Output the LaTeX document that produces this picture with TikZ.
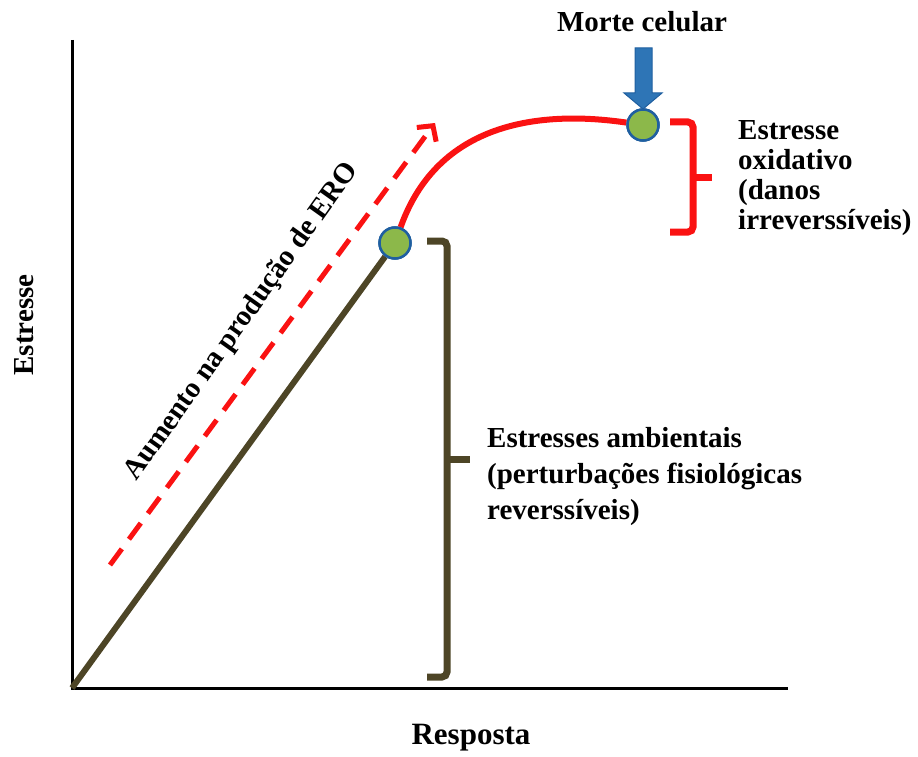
\documentclass[tikz,border=0pt]{standalone}
\usepackage{fontspec}
\setmainfont{Liberation Serif}
\usetikzlibrary{positioning, arrows.meta}
\definecolor{olivebr}{RGB}{77,69,38}
\definecolor{redln}{RGB}{250,18,18}
\definecolor{blarrow}{RGB}{46,117,182}
\definecolor{blrim}{RGB}{31,95,160}
\definecolor{greenpt}{RGB}{140,184,74}

\begin{document}
\begin{tikzpicture}[x=1pt, y=-1pt,
       lbl/.style={font=\fontsize{29}{36}\selectfont\bfseries, inner sep=0pt},
       pt/.style={circle, inner sep=0pt, minimum size=31pt, fill=greenpt,
         draw=blrim, line width=2.5pt},
       axis/.style={line width=3pt, black},
       brk/.style={line width=7pt, rounded corners=5pt}]
     \useasboundingbox (0,0) rectangle (918,757);
     % axes
     \coordinate (o) at (72,688);
     \coordinate (ytop) at (72,40);
     \coordinate (xend) at (788,688);
     \draw [axis] (ytop) -- (o) -- (xend);
     \node[lbl, rotate=90] (ylab) at (24,325) {Estresse};
     \node[lbl, font=\fontsize{31}{36}\selectfont\bfseries] (xlab) at (471,738) {Resposta};
     % points and curves
     \node[pt] (p1) at (395,243) {};
     \node[pt] (p2) at (643,125) {};
     \draw [olivebr, line width=6pt] (o) -- (p1);
     \draw [redln, line width=6pt] (p1) .. controls (438,122) and (540,110) .. (p2);
     \node[pt] at (p1) {};
     \node[pt] at (p2) {};
     % dashed arrow
     \coordinate (d0) at (110,565);
     \coordinate (d1) at (435,123);
     \draw [redln, line width=5pt, dash pattern=on 20pt off 12pt,
       -{Straight Barb[length=11pt, width=24pt, line width=5pt]}] (d0) -- (d1);
     \node[lbl, rotate=54.5] (ero) at (242,322) {Aumento na produção de ERO};
     % cell death
     \node[lbl] (morte) at (642,22) {Morte celular};
     \filldraw [fill=blarrow, draw=blrim, line width=1pt]
       (635,48) -- (652,48) -- (652,93) -- (662,93) -- (643,109) -- (624,93) -- (635,93) -- cycle;
     % brackets
     \draw [brk, redln] (670,122) -- (693,122) -- (693,232) -- (670,232);
     \draw [redln, line width=7pt] (693,177) -- (712,177);
     \draw [brk, olivebr] (427,241) -- (447,241) -- (447,677) -- (427,677);
     \draw [olivebr, line width=7pt] (447,459) -- (470,459);
     \node[lbl, align=left, anchor=west, font=\fontsize{29}{30}\selectfont\bfseries]
       (oxi) at (738,178) {Estresse\\oxidativo\\(danos\\irreverssíveis)};
     \node[lbl, align=left, anchor=west] (amb) at (487,477)
       {Estresses ambientais\\(perturbações fisiológicas\\reverssíveis)};
   \end{tikzpicture}
\end{document}
